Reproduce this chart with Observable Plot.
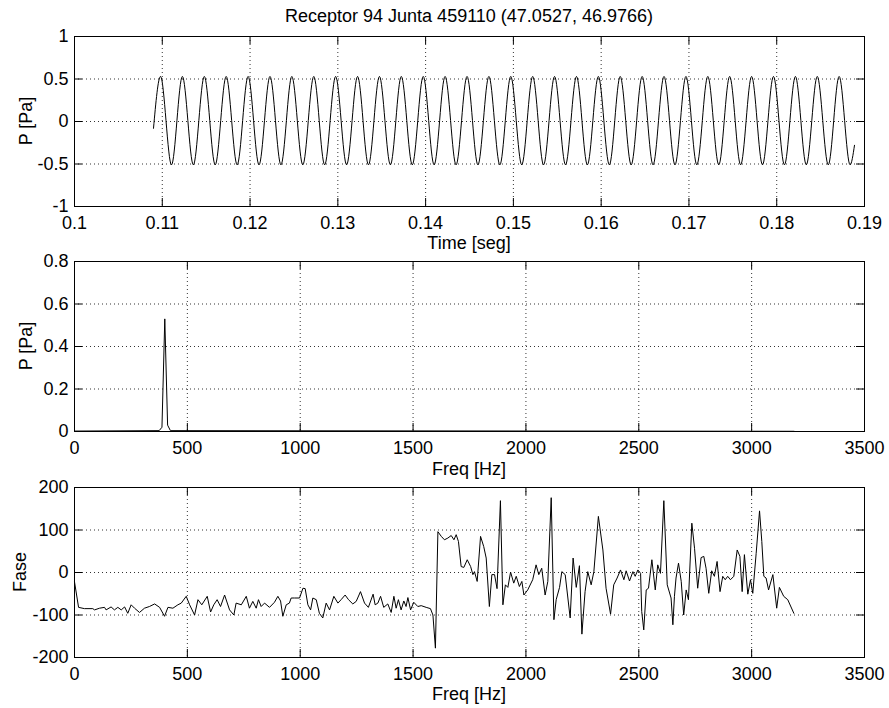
<!DOCTYPE html>
<html><head><meta charset="utf-8">
<script src="https://cdn.jsdelivr.net/npm/d3@7"></script>
<script src="https://cdn.jsdelivr.net/npm/@observablehq/plot@0.6"></script>
<style>
html,body{margin:0;padding:0;background:#fff;overflow:hidden}
#fig{position:relative;width:889px;height:708px;font-family:"Liberation Sans",Arial,sans-serif;color:#000;background:#fff}
#fig svg{position:absolute;left:0}
.lbl{position:absolute;font-size:18px;line-height:18px;white-space:nowrap;transform:translate(-50%,-50%)}
.rot{transform:translate(-50%,-50%) rotate(-90deg)}
</style></head><body><div id="fig"></div>
<script>
// ---- Texts ----
const titleText = "Receptor 94 Junta 459110 (47.0527, 46.9766)";
const xLabels = ["Time [seg]", "Freq [Hz]", "Freq [Hz]"];
const yLabels = ["P [Pa]", "P [Pa]", "Fase"];

// ---- Tick values ----
const timeTicks = [0.1, 0.11, 0.12, 0.13, 0.14, 0.15, 0.16, 0.17, 0.18, 0.19];
const pTicks = [-1, -0.5, 0, 0.5, 1];
const freqTicks = [0, 500, 1000, 1500, 2000, 2500, 3000, 3500];
const ampTicks = [0, 0.2, 0.4, 0.6, 0.8];
const phaseTicks = [-200, -100, 0, 100, 200];

// ---- Panel 1: pressure signal (extrema) ----
const pTime = [0.10900,
  0.10980,0.11105, 0.11229,0.11354, 0.11479,0.11603, 0.11728,0.11853, 0.11978,0.12102,
  0.12227,0.12352, 0.12476,0.12601, 0.12726,0.12850, 0.12975,0.13100, 0.13225,0.13349,
  0.13474,0.13599, 0.13723,0.13848, 0.13973,0.14097, 0.14222,0.14347, 0.14472,0.14596,
  0.14721,0.14846, 0.14970,0.15095, 0.15220,0.15344, 0.15469,0.15594, 0.15719,0.15843,
  0.15968,0.16093, 0.16217,0.16342, 0.16467,0.16591, 0.16716,0.16841, 0.16966,0.17090,
  0.17215,0.17340, 0.17464,0.17589, 0.17714,0.17838, 0.17963,0.18088, 0.18213,0.18337,
  0.18462,0.18587, 0.18711,0.18836,
  0.18886];
const pValue = [-0.08,
  0.53,-0.51, 0.53,-0.51, 0.53,-0.51, 0.53,-0.51, 0.53,-0.51,
  0.53,-0.51, 0.53,-0.51, 0.53,-0.51, 0.53,-0.51, 0.53,-0.51,
  0.53,-0.51, 0.53,-0.51, 0.53,-0.51, 0.53,-0.51, 0.53,-0.51,
  0.53,-0.51, 0.53,-0.51, 0.53,-0.51, 0.53,-0.51, 0.53,-0.51,
  0.53,-0.51, 0.53,-0.51, 0.53,-0.51, 0.53,-0.51, 0.53,-0.51,
  0.53,-0.51, 0.53,-0.51, 0.53,-0.51, 0.53,-0.51, 0.53,-0.51,
  0.53,-0.51, 0.53,-0.51,
  -0.28];

// ---- Panel 2: amplitude spectrum ----
const sFreq = [0, 375, 387.5, 400, 412.5, 425, 3187.5];
const sAmp  = [0.002, 0.004, 0.02, 0.53, 0.03, 0.004, 0.001];

// ---- Panel 3: phase spectrum ----
const fFreq = [0,18,44,81,89,111,133,140,162,177,192,207,222,236,251,266,288,310,332,355,377,399,414,436,458,473,495,510,532,547,564,588,603,617,632,647,665,687,706,716,739,761,775,790,805,815,827,842,864,886,
  901,913,923,938,952,960,975,997,1012,1022,1034,1046,1056,1071,1085,1100,1115,1130,1149,1167,1181,1199,1214,1233,1248,1267,1285,1302,1323,1332,1344,1356,1370,1388,1403,1415,1425,1435,1447,1459,1469,1477,1489,1503,1521,1536,1558,1577,1588,1599,
  1610,1625,1639,1654,1669,1681,1691,1701,1713,1725,1740,1755,1765,1772,
  1784,1799,1813,1824,1838,1849,1861,1872,1887,1898,1909,1920,1932,1946,1957,1971,1982,1991,2008,2030,2045,2057,2070,2085,2097,2112,2124,2134,2149,2159,2174,2196,2209,2223,2237,2248,2262,2274,2289,2301,2321,2341,2355,2375,2389,2404,2419,2434,2444,2459,2474,2484,2496,2508,2513,2522,2533,2543,2558,2573,2584,2596,2611,2626,2643,2651,2658,
  2665,2676,2688,2699,2710,2720,2735,2747,2761,2776,2788,2798,2810,2823,2835,2847,2860,2872,2883,2894,2906,2921,2936,2948,2958,2968,2983,2995,3005,3020,3035,3045,3054,3064,3075,3094,3111,3123,3142,3160,3187];
const fPhase = [-22,-82,-85,-85,-88,-84,-82,-88,-81,-88,-82,-88,-81,-96,-76,-84,-94,-84,-80,-74,-82,-103,-82,-84,-76,-72,-56,-76,-100,-64,-76,-56,-93,-76,-64,-80,-53,-88,-100,-72,-76,-56,-84,-68,-84,-64,-80,-72,-82,-70,
  -56,-67,-103,-76,-72,-60,-60,-60,-37,-38,-76,-88,-60,-64,-96,-107,-72,-88,-56,-72,-64,-53,-64,-74,-68,-45,-72,-82,-51,-76,-72,-56,-82,-74,-94,-56,-84,-64,-88,-67,-80,-59,-88,-70,-80,-78,-82,-85,-100,-178,
  96,85,77,81,87,77,89,73,14,12,30,14,-5,2,
  -21,85,61,34,-80,-5,-5,-38,169,-76,-29,-35,1,-25,-9,-33,-21,-53,-41,-17,18,-5,10,-53,-21,176,-111,-64,-35,2,-5,-107,34,-35,16,-145,-45,2,-29,2,132,53,-37,-98,-29,-13,6,-17,4,-20,2,-9,6,-2,-92,-135,-41,-37,30,-41,18,-2,169,-29,-60,-123,-56,
  -13,22,-21,-100,-41,-64,116,57,-37,35,38,10,-49,4,-9,26,-45,-9,-17,-9,-17,-9,53,38,-45,42,-51,-17,-49,45,145,73,-9,-13,-41,-5,-84,-35,-56,-64,-96];

// ---- Layout ----
const W = 889, ML = 74, MR = 25, PH = 170, PW = W - ML - MR, TL = 8;
const FONT = '"Liberation Sans", Arial, sans-serif';

function panel({top, marginTop, marginBottom, xDomain, yDomain, xTicks, yTicks, line}) {
  const height = marginTop + PH + marginBottom;
  const dot = {stroke: "#000", strokeOpacity: 0.8, strokeDasharray: "1,3", strokeWidth: 1};
  const inner = t => t.slice(1, -1);
  const svg = Plot.plot({
    width: W, height, marginLeft: ML, marginRight: MR, marginTop, marginBottom,
    style: {fontFamily: FONT, fontSize: "18px", color: "#000", background: "transparent", overflow: "visible"},
    x: {domain: xDomain},
    y: {domain: yDomain},
    marks: [
      Plot.gridX(inner(xTicks), dot),
      Plot.gridY(inner(yTicks), dot),
      line,
      Plot.ruleX(xTicks, {stroke: "#000", insetTop: PH - TL}),
      Plot.ruleX(xTicks, {stroke: "#000", insetBottom: PH - TL}),
      Plot.ruleY(yTicks, {stroke: "#000", insetRight: PW - TL}),
      Plot.ruleY(yTicks, {stroke: "#000", insetLeft: PW - TL}),
      Plot.frame({stroke: "#000"}),
      Plot.axisX(xTicks, {anchor: "bottom", tickSize: 0, tickPadding: 10, tickFormat: d => String(d), label: null}),
      Plot.axisY(yTicks, {anchor: "left", tickSize: 0, tickPadding: 6, tickFormat: d => String(d), label: null})
    ]
  });
  svg.style.top = top + "px";
  return svg;
}

const fig = document.getElementById("fig");
const lineStyle = {stroke: "#000", strokeWidth: 1};

fig.append(panel({
  top: 0, marginTop: 36, marginBottom: 44,
  xDomain: [0.1, 0.19], yDomain: [-1, 1], xTicks: timeTicks, yTicks: pTicks,
  line: Plot.line(pValue, {x: pTime, y: pValue, curve: "monotone-x", ...lineStyle})
}));
fig.append(panel({
  top: 250, marginTop: 11, marginBottom: 45,
  xDomain: [0, 3500], yDomain: [0, 0.8], xTicks: freqTicks, yTicks: ampTicks,
  line: Plot.line(sAmp, {x: sFreq, y: sAmp, ...lineStyle})
}));
fig.append(panel({
  top: 476, marginTop: 11, marginBottom: 51,
  xDomain: [0, 3500], yDomain: [-200, 200], xTicks: freqTicks, yTicks: phaseTicks,
  line: Plot.line(fPhase, {x: fFreq, y: fPhase, ...lineStyle})
}));

function label(text, x, y, rotate) {
  const d = document.createElement("div");
  d.className = rotate ? "lbl rot" : "lbl";
  d.textContent = text;
  d.style.left = x + "px";
  d.style.top = y + "px";
  fig.append(d);
}
label(titleText, 469, 16);
label(xLabels[0], 469, 243);
label(xLabels[1], 469, 469);
label(xLabels[2], 469, 694);
label(yLabels[0], 26, 121, true);
label(yLabels[1], 26, 346, true);
label(yLabels[2], 20, 572, true);
</script>
</body></html>
